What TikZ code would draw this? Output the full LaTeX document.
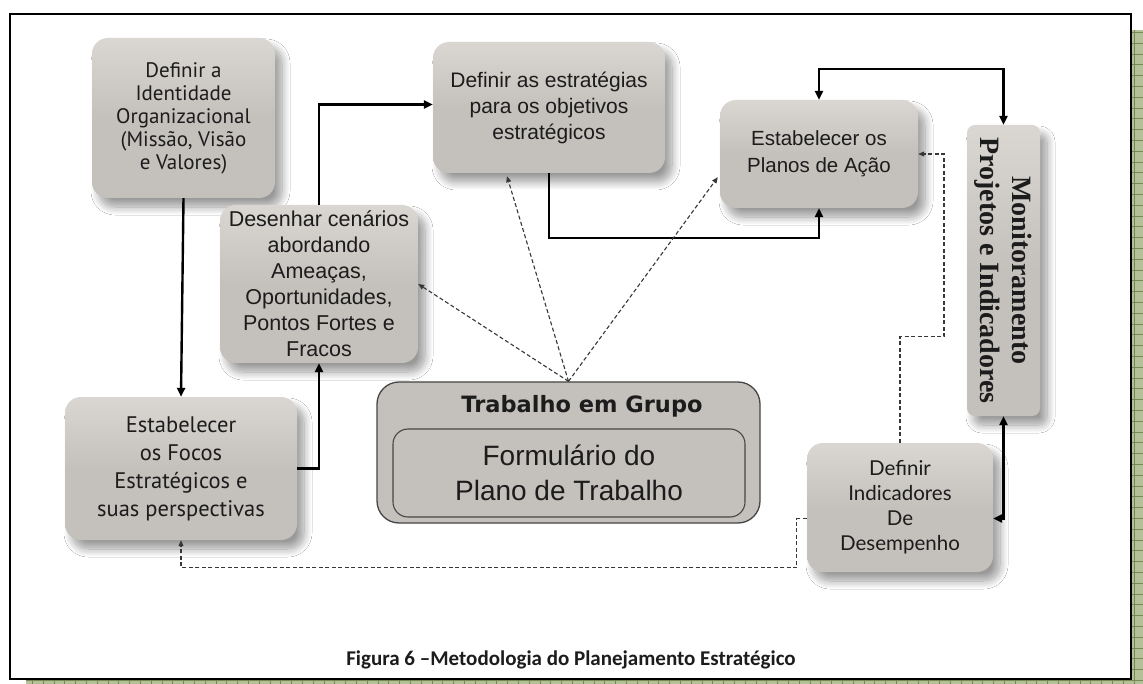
\documentclass[tikz,border=0pt]{standalone}
\usepackage{fontspec}
\setmainfont{Liberation Sans}
\newfontfamily\ptsans{PT Sans}
\newfontfamily\latof{Lato}
\newfontfamily\dejav{DejaVu Sans}
\newfontfamily\serifb{Liberation Serif}
\newfontfamily\carl{Carlito}
\usetikzlibrary{shadows.blur,arrows.meta,calc}
\definecolor{boxgray}{RGB}{196,192,188}
\definecolor{boxlight}{RGB}{218,215,211}
\definecolor{gridfill}{RGB}{180,192,152}
\definecolor{gridline}{RGB}{118,138,84}
\definecolor{txt}{RGB}{28,28,28}
\definecolor{dashc}{RGB}{55,55,55}
\definecolor{tgline}{RGB}{70,70,70}
\tikzset{
  boxnode/.style={rectangle, rounded corners=16pt, top color=boxlight, bottom color=boxgray, middle color=boxgray,
    draw=none, align=center, text=txt, inner sep=0pt,
    blur shadow={shadow xshift=7pt, shadow yshift=-9pt, shadow blur radius=8pt, shadow blur steps=12, shadow opacity=40}},
  flow/.style={line width=2.4pt, -{Triangle[length=9pt,width=8pt]}},
  flowboth/.style={line width=2.4pt, {Triangle[length=9pt,width=8pt]}-{Triangle[length=9pt,width=8pt]}},
  dsh/.style={line width=1.1pt, dashc, dash pattern=on 4pt off 2.5pt, -{Triangle[length=6pt,width=5pt]}},
}
\begin{document}
\begin{tikzpicture}[x=1pt,y=-1pt]
\useasboundingbox (0,0) rectangle (1143,684);
% frame with green grid shadow
\fill[gridfill] (26,30) rectangle (1143,684);
\draw[gridline, line width=0.7pt, step=10.8pt] (26,30) grid (1143,684);
\draw[fill=white, line width=2pt] (10,14) rectangle (1131,679);

% boxes
\node[boxnode, minimum width=183pt, minimum height=160pt, font=\ptsans\fontsize{21}{23}\selectfont]
  (B1) at (183.5,118) {Definir a\\Identidade\\Organizacional\\(Missão, Visão\\e Valores)};
\node[boxnode, minimum width=198pt, minimum height=158pt, font=\fontsize{21.5}{26}\selectfont]
  (B2) at (319,284) {Desenhar cenários\\abordando\\Ameaças,\\Oportunidades,\\Pontos Fortes e\\Fracos};
\node[boxnode, minimum width=232pt, minimum height=131pt, font=\fontsize{21}{26}\selectfont]
  (B3) at (549,107.5) {Definir as estratégias\\para os objetivos\\estratégicos};
\node[boxnode, minimum width=198pt, minimum height=108pt, font=\fontsize{20.5}{27}\selectfont]
  (B4) at (819,154) {Estabelecer os\\Planos de Ação};
\node[boxnode, rounded corners=8pt, minimum width=291pt, minimum height=73pt, rotate=-90,
  font=\serifb\bfseries\fontsize{28}{32}\selectfont]
  (B5) at (1003.5,270.5) {Monitoramento\\Projetos e Indicadores};
\node[boxnode, minimum width=232pt, minimum height=143pt, font=\ptsans\fontsize{22.5}{28}\selectfont]
  (B6) at (181,468.5) {Estabelecer\\os Focos\\Estratégicos e\\suas perspectivas};
\node[boxnode, minimum width=186pt, minimum height=129pt, font=\latof\fontsize{20.5}{25}\selectfont]
  (B8) at (900,507.5) {Definir\\Indicadores\\De\\Desempenho};

% Trabalho em Grupo
\node[rectangle, rounded corners=22pt, fill=boxgray, draw=tgline, line width=1.3pt,
  minimum width=383pt, minimum height=141pt, inner sep=0pt] (B7) at (568.5,452.5) {};
\node[text=txt, font=\dejav\bfseries\fontsize{22.5}{26}\selectfont] (B7t) at (582,406) {Trabalho em Grupo};
\node[rectangle, rounded corners=15pt, fill=boxgray, draw=tgline, line width=1.1pt,
  minimum width=352pt, minimum height=88pt, inner sep=0pt, align=center, text=txt,
  font=\fontsize{28}{35}\selectfont] (B7i) at (569,473) {Formulário do\\Plano de Trabalho};

% solid connectors
\draw[flow] (B1.south) -- (B6.north);
\draw[flow] (B6.east) -| (B2.south);
\draw[flow] (B2.north) |- ($(B3.west)+(0,-3)$);
\draw[flow] (B3.south) -- ++(0,65) -| (B4.south);
\draw[flowboth] (B4.north) -- ++(0,-31) -| (B5.west);
\draw[flowboth] (B5.east) |- ($(B8.east)+(0,11)$);

% dashed connectors
\draw[dsh] (B7.north) -- (B2.east);
\draw[dsh] (B7.north) -- ($(B3.south)+(-42,3)$);
\draw[dsh] (B7.north) -- ($(B4.south west)+(-2,-31)$);
\draw[dsh] (B8.north) -- ++(0,-106) -- ++(44,0) |- (B4.east);
\draw[dsh] ($(B8.west)+(0,11)$) -- ++(-10,0) -- ++(0,49) -| (B6.south);

% caption
\node[text=txt, font=\carl\bfseries\fontsize{21}{24}\selectfont] (cap) at (571,660)
  {Figura 6 –Metodologia do Planejamento Estratégico};
\end{tikzpicture}
\end{document}
